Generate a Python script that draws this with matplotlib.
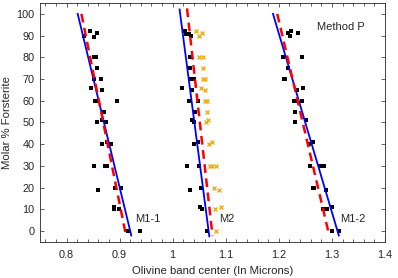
import matplotlib
matplotlib.use("Agg")
import matplotlib.pyplot as plt
from matplotlib.ticker import MultipleLocator

plt.rcParams['font.family'] = ['Liberation Sans', 'DejaVu Sans']

# ---- data: M1-1 (black squares) ----
m11_x = [0.832, 0.845, 0.852, 0.858, 0.852, 0.856, 0.858, 0.851, 0.864, 0.846, 0.867,
         0.854, 0.858, 0.895, 0.870, 0.866, 0.858, 0.874, 0.867, 0.876, 0.884, 0.851,
         0.873, 0.877, 0.860, 0.891, 0.902, 0.889, 0.889, 0.899, 0.916, 0.938]
m11_y = [90, 92, 89.5, 91, 80, 80, 75, 70, 70, 66, 65,
         60, 60, 60, 55, 51, 50, 50, 40, 41, 40, 30,
         30, 30, 19, 20, 20, 11, 10, 10, 0, 0]

# ---- data: M2 (black squares) ----
m2_x = [1.023, 1.026, 1.031, 1.035, 1.032, 1.035, 1.033, 1.033, 1.037, 1.041, 1.018,
        1.036, 1.030, 1.047, 1.042, 1.036, 1.041, 1.041, 1.047, 1.027, 1.050, 1.033,
        1.053, 1.052, 1.056, 1.065]
m2_y = [92, 90.7, 90.7, 90, 80, 80, 75, 70, 70, 70, 66,
        65, 60, 60, 55, 51, 50, 40, 41, 30, 30, 19,
        20, 11, 10, 0]

# ---- data: M2 (orange crosses) ----
m2o_x = [1.043, 1.050, 1.055, 1.049, 1.058, 1.057, 1.057, 1.060, 1.053, 1.061, 1.060,
         1.065, 1.065, 1.067, 1.063, 1.068, 1.075, 1.071, 1.074, 1.081, 1.077, 1.087,
         1.080, 1.091, 1.082]
m2o_y = [92, 90, 91, 80, 80, 75, 70, 70, 66, 65, 60,
         60, 55, 51, 50, 40, 41, 30, 30, 30, 20, 19,
         10, 11, 0]

# ---- data: M1-2 (black squares) ----
m12_x = [1.222, 1.217, 1.221, 1.236, 1.208, 1.243, 1.217, 1.209, 1.212, 1.235, 1.246,
         1.229, 1.234, 1.243, 1.230, 1.252, 1.231, 1.257, 1.264, 1.258, 1.277, 1.286,
         1.264, 1.267, 1.289, 1.283, 1.291, 1.300, 1.300, 1.313]
m12_y = [92, 91, 90, 91, 80, 80, 75, 70, 70, 65, 66,
         60, 60, 60, 55, 51, 50, 40, 41, 30, 30, 30,
         20, 20, 19, 10, 10, 11, 0, 0]

# ---- fit lines (end points) ----
m11_blue_x = [0.821, 0.922]; m11_blue_y = [100, -2]
m11_red_x = [0.828, 0.912];  m11_red_y = [100, -2]
m2_blue_x = [1.013, 1.069];  m2_blue_y = [102, -2.4]
m2_red_x = [1.027, 1.075];   m2_red_y = [102.5, -2]
m12_blue_x = [1.189, 1.313]; m12_blue_y = [100, -2]
m12_red_x = [1.197, 1.294];  m12_red_y = [100, -1]

labels = ["M1-1", "M2", "M1-2"]
label_x = [0.930, 1.088, 1.316]
label_y = [5.5, 5.5, 5.5]
x_ticks = [0.8, 0.9, 1.0, 1.1, 1.2, 1.3, 1.4]
x_tick_labels = ["0.8", "0.9", "1", "1.1", "1.2", "1.3", "1.4"]
y_ticks = [0, 10, 20, 30, 40, 50, 60, 70, 80, 90, 100]

txt = '#262626'
fig = plt.figure(figsize=(3.98, 2.78), dpi=100)
ax = fig.add_axes([40/398, 36/278, 345/398, 239/278])

blue = '#0000ff'
red = '#ff0000'
for bx, by, rx, ry in [(m11_blue_x, m11_blue_y, m11_red_x, m11_red_y),
                       (m2_blue_x, m2_blue_y, m2_red_x, m2_red_y),
                       (m12_blue_x, m12_blue_y, m12_red_x, m12_red_y)]:
    ax.plot(bx, by, color=blue, lw=1.3, zorder=3)
    ax.plot(rx, ry, color=red, lw=1.8, ls=(0, (3.5, 2.2)), zorder=3)

ax.plot(m2o_x, m2o_y, ls='none', marker='x', ms=2.6, mew=1.0, color='#EDB120', zorder=2)
for xs, ys in [(m11_x, m11_y), (m2_x, m2_y), (m12_x, m12_y)]:
    ax.plot(xs, ys, ls='none', marker='s', ms=2.4, mew=0, color='black', zorder=2)

for t, lx, ly in zip(labels, label_x, label_y):
    ax.text(lx, ly, t, fontsize=8, color=txt, ha='left', va='center')
ax.text(1.272, 94, "Method P", fontsize=8, color=txt, ha='left', va='center')

ax.set_xlim(0.75, 1.4)
ax.set_ylim(-5, 105)
ax.set_xticks(x_ticks)
ax.set_xticklabels(x_tick_labels)
ax.set_yticks(y_ticks)
ax.xaxis.set_minor_locator(MultipleLocator(0.02))
ax.tick_params(which='both', direction='in', top=True, right=True,
               labelsize=7.8, colors=txt, width=0.5)
ax.tick_params(which='major', length=3)
ax.tick_params(which='minor', length=2)
ax.tick_params(axis='x', which='major', pad=6)
ax.tick_params(axis='y', which='major', pad=4)
for s in ax.spines.values():
    s.set_color(txt)
    s.set_linewidth(0.6)
ax.set_xlabel("Olivine band center (In Microns)", fontsize=8.2, color=txt, labelpad=4)
ax.set_ylabel("Molar % Forsterite", fontsize=8.2, color=txt, labelpad=3)

fig.savefig("out.png", dpi=100)
